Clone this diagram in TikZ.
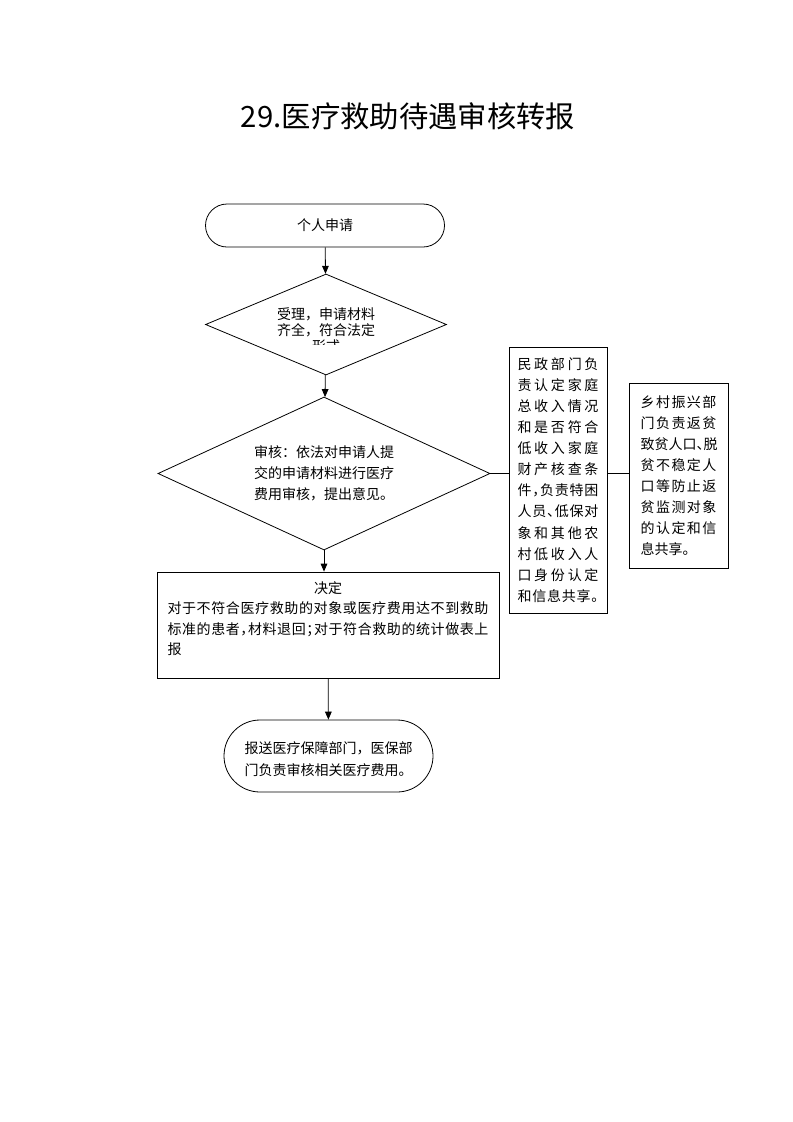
\documentclass[tikz,border=0pt]{standalone}
\usepackage{fontspec}
\setmainfont{Noto Sans CJK SC}
\usetikzlibrary{arrows.meta,shapes.geometric,shapes.misc}

\newcommand\halfpunct[1]{\makebox[0.5em][l]{#1}}
\newcommand\spreadline[2]{\makebox[#1][s]{\spreadfirst#2\relax}}
\def\spreadfirst#1{\ifx\relax#1\else#1\expandafter\spreadnext\fi}
\def\spreadnext#1{\ifx\relax#1\else\hfill#1\expandafter\spreadnext\fi}

\begin{document}
\begin{tikzpicture}[x=0.75pt,y=-0.75pt,line width=0.6pt,>={Triangle[length=6pt,width=5pt]},
  font=\fontsize{10.5}{15.8}\selectfont,
  terminal/.style={draw,rounded rectangle,inner sep=0pt},
  decision/.style={draw,diamond,inner sep=0pt},
  process/.style={draw,rectangle,inner sep=0pt}]

\useasboundingbox (0,0) rectangle (793,1122);

\node (title) at (408,116) {\fontsize{22}{26}\selectfont 29.医疗救助待遇审核转报};

\node[terminal,minimum width=179.25pt,minimum height=32.25pt] (apply) at (325,225.5) {个人申请};

\node[decision,aspect=2.4,minimum width=180.75pt,minimum height=75.75pt] (accept) at (326,324.5) {};

\begin{scope}
\clip (240,300) rectangle (410,344);
\node[align=center,font=\fontsize{10.5}{12}\selectfont] (accepttext) at (326,330) {受理，申请材料\\齐全，符合法定\\形式};
\end{scope}

\node[decision,aspect=2.17,minimum width=249pt,minimum height=114.75pt,align=center] (review) at (324,473.5)
{审核：依法对申请人提\\交的申请材料进行医疗\\费用审核，提出意见。};

\node[process,minimum width=256.5pt,minimum height=79.5pt] (decide) at (328,625) {};

\node[anchor=north,inner sep=0pt,text width=240.75pt,align=left,font=\fontsize{10.5}{15.4}\selectfont] (decidetext) at (328,581)
{\makebox[240.75pt]{决定}\\
\spreadline{240.75pt}{对于不符合医疗救助的对象或医疗费用达不到救助}\\
\spreadline{240.75pt}{标准的患者{\halfpunct{，}}材料退回{\halfpunct{；}}对于符合救助的统计做表上}\\
报};

\node[terminal,minimum width=156.75pt,minimum height=54pt,align=center,font=\fontsize{10.5}{16.5}\selectfont] (report) at (328.5,756)
{\vphantom{报}\\[-12pt]报送医疗保障部门，医保部\\门负责审核相关医疗费用。};

\node[process,minimum width=73.5pt,minimum height=199.5pt,text width=60.75pt,align=left] (civil) at (558,480)
{\spreadline{60.75pt}{民政部门负}\\
\spreadline{60.75pt}{责认定家庭}\\
\spreadline{60.75pt}{总收入情况}\\
\spreadline{60.75pt}{和是否符合}\\
\spreadline{60.75pt}{低收入家庭}\\
\spreadline{60.75pt}{财产核查条}\\
\spreadline{60.75pt}{件{\halfpunct{，}}负责特困}\\
\spreadline{60.75pt}{人员{\halfpunct{、}}低保对}\\
\spreadline{60.75pt}{象和其他农}\\
\spreadline{60.75pt}{村低收入人}\\
\spreadline{60.75pt}{口身份认定}\\
\spreadline{60.75pt}{和信息共享{\halfpunct{。}}}};

\node[process,minimum width=74.25pt,minimum height=138.75pt,text width=57pt,align=left] (rural) at (678.5,475.5)
{\spreadline{57pt}{乡村振兴部}\\
\spreadline{57pt}{门负责返贫}\\
\spreadline{57pt}{致贫人口{\halfpunct{、}}脱}\\
\spreadline{57pt}{贫不稳定人}\\
\spreadline{57pt}{口等防止返}\\
\spreadline{57pt}{贫监测对象}\\
\spreadline{57pt}{的认定和信}\\
息共享。};

\draw[->] (apply) -- (accept);

\draw[->] (accept) -- (review);

\draw[->] (review) -- (review.south |- decide.north);

\draw[->] (decide) -- (report);

\draw (review.east) -- (review.east -| civil.west);

\draw (civil.east |- review.east) -- (rural.west |- review.east);

\end{tikzpicture}
\end{document}
